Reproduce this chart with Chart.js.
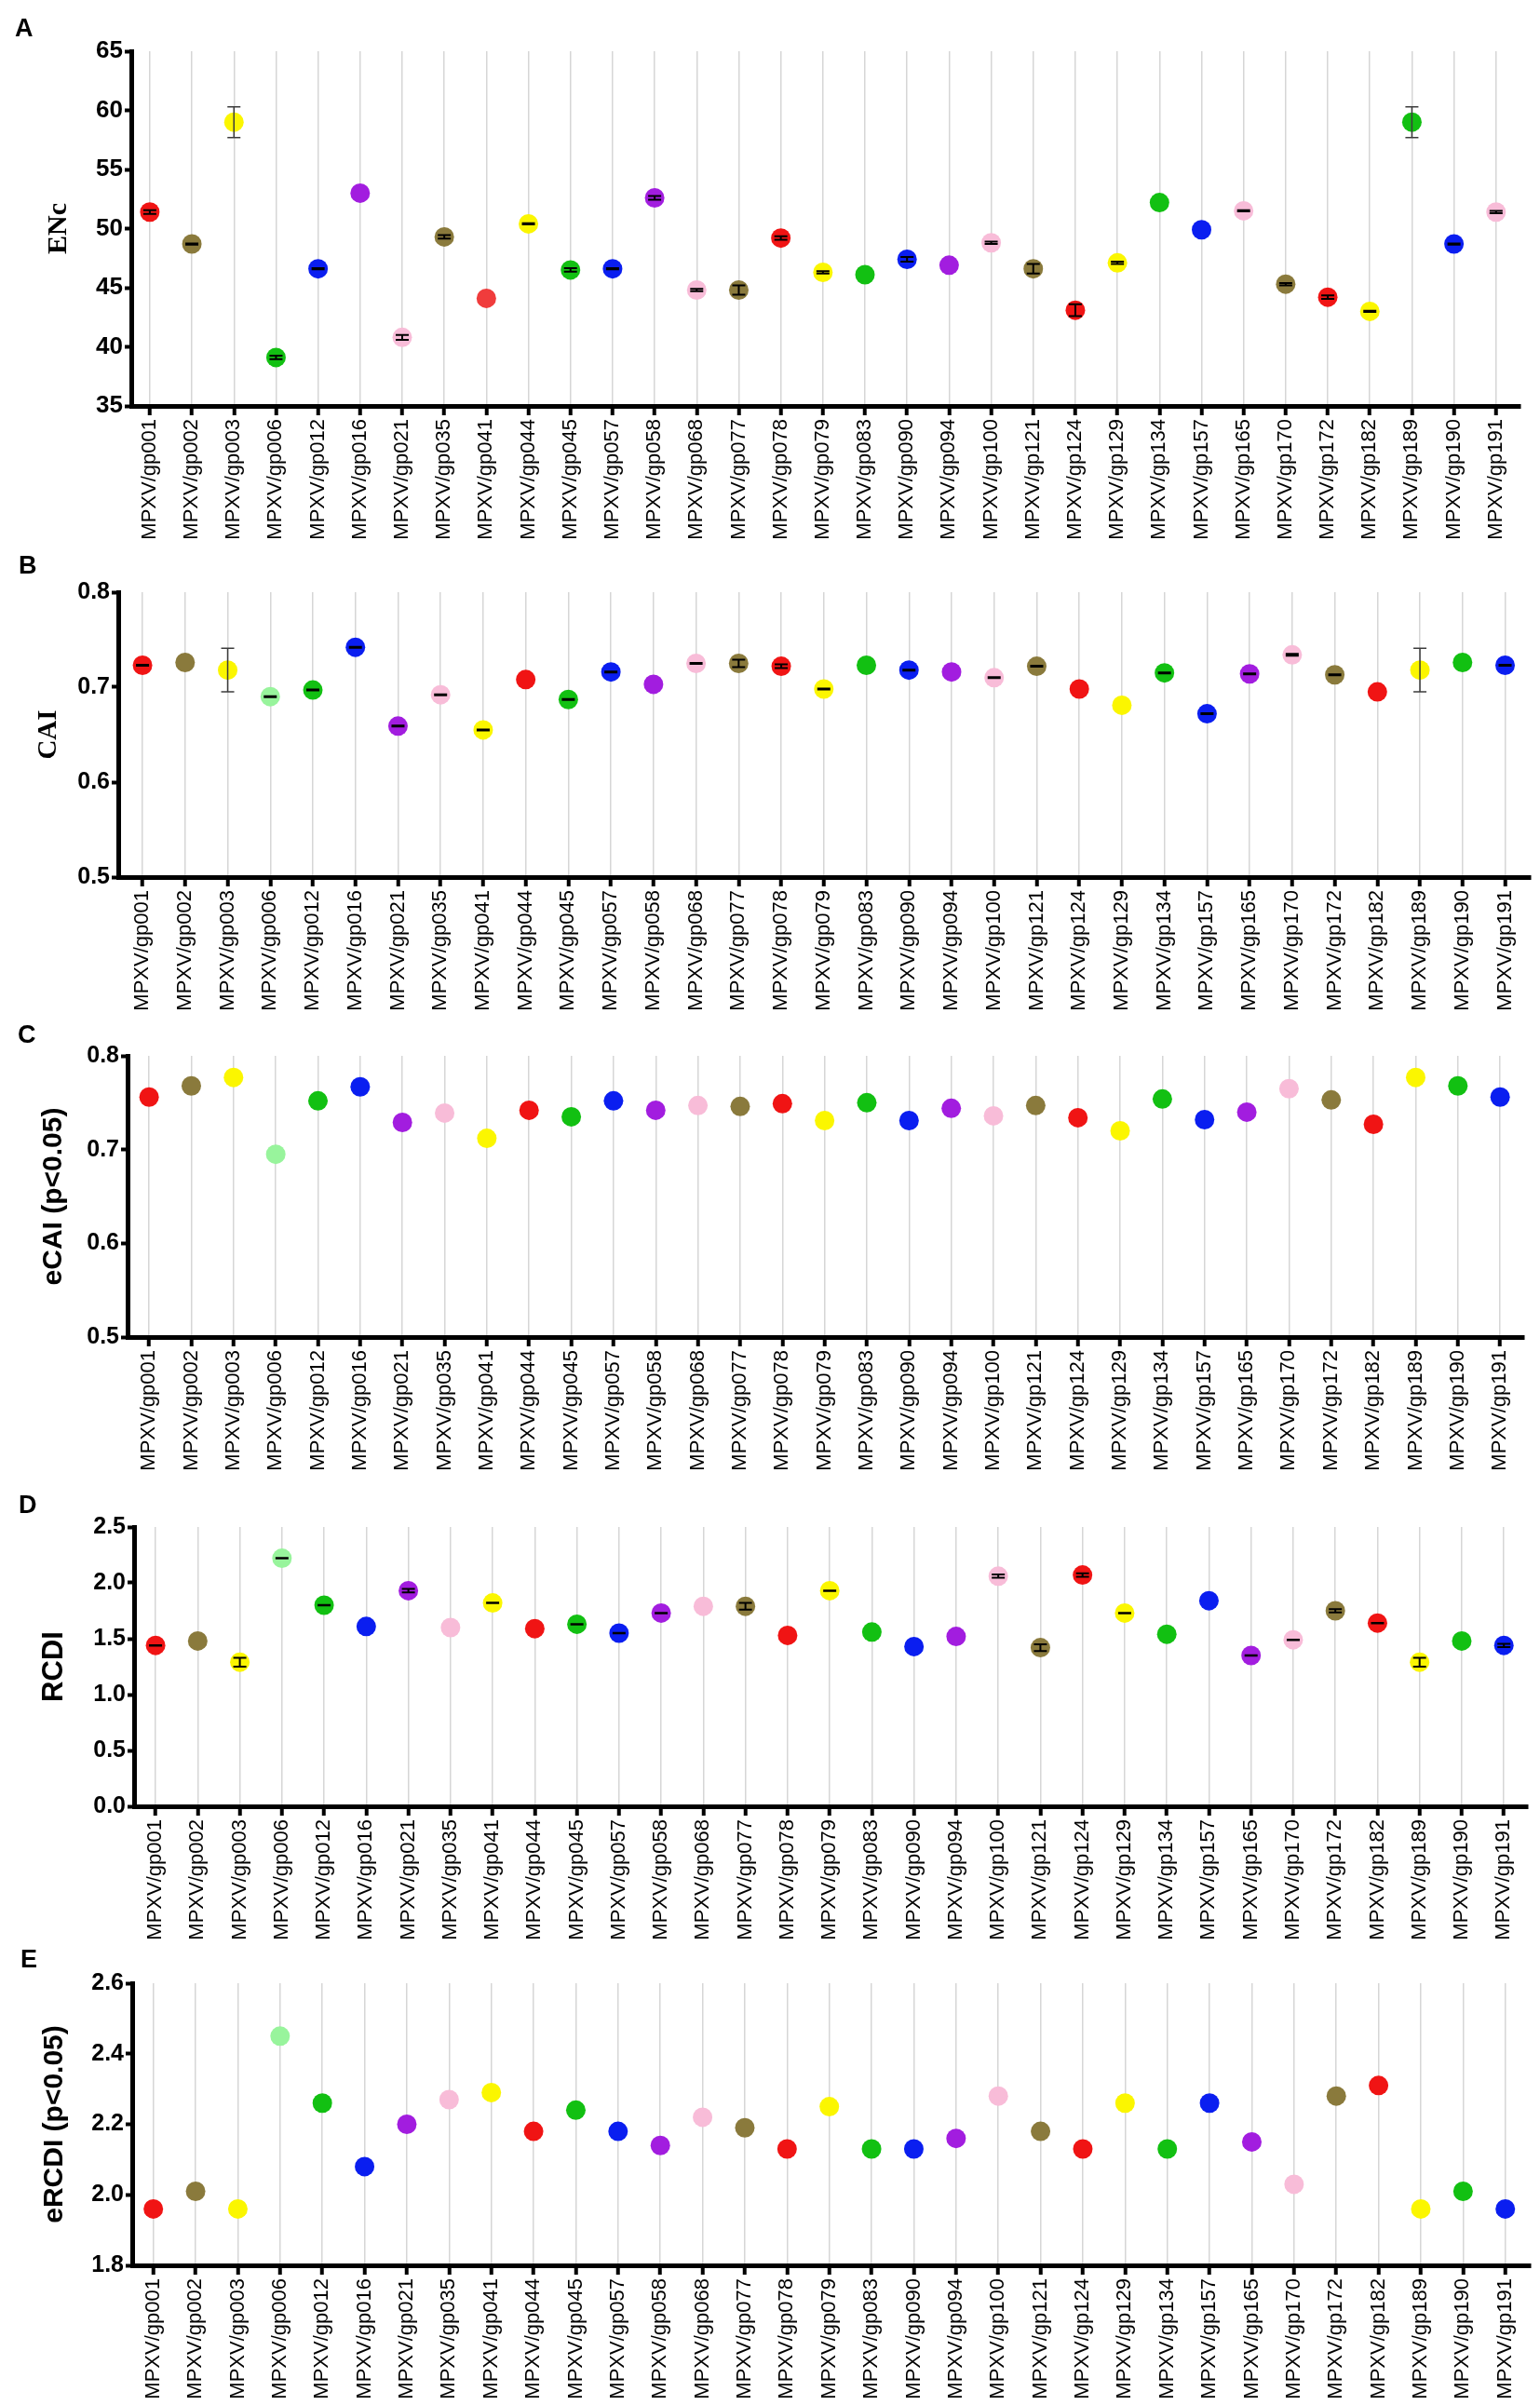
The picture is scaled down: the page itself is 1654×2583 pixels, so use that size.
<!DOCTYPE html>
<html>
<head>
<meta charset="utf-8">
<script src="https://cdn.jsdelivr.net/npm/chart.js@4.4.1/dist/chart.umd.min.js"></script>
<style>
    body { margin: 0; background: #fff; width: 1654px; height: 2583px; position: relative; overflow: hidden; }
    canvas { position: absolute; left: 0; }
</style>
</head>
<body>
<canvas id="panelA" width="1654" height="580" style="top:0px"></canvas>
<canvas id="panelB" width="1654" height="520" style="top:575px"></canvas>
<canvas id="panelC" width="1654" height="510" style="top:1090px"></canvas>
<canvas id="panelD" width="1654" height="500" style="top:1590px"></canvas>
<canvas id="panelE" width="1654" height="498" style="top:2085px"></canvas>
<script>
// genes on the x axis (same order in every panel)
const genes = ['MPXV/gp001', 'MPXV/gp002', 'MPXV/gp003', 'MPXV/gp006', 'MPXV/gp012', 'MPXV/gp016',
    'MPXV/gp021', 'MPXV/gp035', 'MPXV/gp041', 'MPXV/gp044', 'MPXV/gp045', 'MPXV/gp057',
    'MPXV/gp058', 'MPXV/gp068', 'MPXV/gp077', 'MPXV/gp078', 'MPXV/gp079', 'MPXV/gp083',
    'MPXV/gp090', 'MPXV/gp094', 'MPXV/gp100', 'MPXV/gp121', 'MPXV/gp124', 'MPXV/gp129',
    'MPXV/gp134', 'MPXV/gp157', 'MPXV/gp165', 'MPXV/gp170', 'MPXV/gp172', 'MPXV/gp182',
    'MPXV/gp189', 'MPXV/gp190', 'MPXV/gp191'];

// A - ENc
const encValues = [51.4, 48.7, 59.0, 39.1, 46.6, 53.0, 40.8, 49.3, 44.1, 50.4, 46.5, 46.6, 52.6, 44.8, 44.8,
    49.2, 46.3, 46.1, 47.4, 46.9, 48.8, 46.6, 43.1, 47.1, 52.2, 49.9, 51.5, 45.3, 44.2, 43.0, 59.0, 48.7, 51.4];
const encErrors = [0.15, 0.05, 1.3, 0.15, 0.05, 0, 0.2, 0.15, 0, 0.05, 0.15, 0.05, 0.15, 0.1, 0.4,
    0.15, 0.1, 0, 0.2, 0, 0.1, 0.4, 0.5, 0.1, 0, 0, 0.05, 0.1, 0.15, 0.05, 1.3, 0.05, 0.1];

// B - CAI
const caiValues = [0.723, 0.726, 0.718, 0.690, 0.697, 0.742, 0.659, 0.692, 0.655, 0.708, 0.687, 0.716, 0.703, 0.725, 0.725,
    0.722, 0.698, 0.723, 0.718, 0.716, 0.710, 0.722, 0.698, 0.681, 0.715, 0.672, 0.714, 0.734, 0.713, 0.695, 0.718, 0.726, 0.723];
const caiErrors = [0.0005, 0, 0.023, 0.0005, 0.0005, 0.0005, 0.0005, 0.0005, 0.0005, 0, 0.0005, 0.0005, 0, 0.0005, 0.004,
    0.002, 0.0005, 0, 0.0005, 0, 0.0005, 0.0005, 0, 0, 0.0005, 0.0005, 0.0005, 0.001, 0.0005, 0, 0.023, 0, 0.0005];

// C - eCAI (p<0.05)
const ecaiValues = [0.756, 0.768, 0.777, 0.695, 0.752, 0.767, 0.729, 0.739, 0.712, 0.742, 0.735, 0.752, 0.742, 0.747, 0.746,
    0.749, 0.731, 0.750, 0.731, 0.744, 0.736, 0.747, 0.734, 0.720, 0.754, 0.732, 0.740, 0.765, 0.753, 0.727, 0.777, 0.768, 0.756];

// D - RCDI
const rcdiValues = [1.44, 1.48, 1.29, 2.22, 1.80, 1.61, 1.93, 1.60, 1.82, 1.59, 1.63, 1.55, 1.73, 1.79, 1.79,
    1.53, 1.93, 1.56, 1.43, 1.52, 2.06, 1.42, 2.07, 1.73, 1.54, 1.84, 1.35, 1.49, 1.75, 1.64, 1.29, 1.48, 1.44];
const rcdiErrors = [0.002, 0, 0.04, 0.002, 0.002, 0, 0.015, 0, 0.002, 0, 0.002, 0.002, 0.002, 0, 0.03,
    0, 0.002, 0, 0, 0, 0.015, 0.03, 0.015, 0.002, 0, 0, 0.002, 0.002, 0.015, 0.002, 0.04, 0, 0.015];

// E - eRCDI (p<0.05)
const ercdiValues = [1.96, 2.01, 1.96, 2.45, 2.26, 2.08, 2.20, 2.27, 2.29, 2.18, 2.24, 2.18, 2.14, 2.22, 2.19,
    2.13, 2.25, 2.13, 2.13, 2.16, 2.28, 2.18, 2.13, 2.26, 2.13, 2.26, 2.15, 2.03, 2.28, 2.31, 1.96, 2.01, 1.96];

// dot colours
const colorsA = ['red', 'olive', 'yellow', 'green', 'blue', 'purple', 'pink', 'olive', 'lightred', 'yellow', 'green',
    'blue', 'purple', 'pink', 'olive', 'red', 'yellow', 'green', 'blue', 'purple', 'pink', 'olive', 'red', 'yellow',
    'green', 'blue', 'pink', 'olive', 'red', 'yellow', 'green', 'blue', 'pink'];
const colorsOther = ['red', 'olive', 'yellow', 'lightgreen', 'green', 'blue', 'purple', 'pink', 'yellow', 'red', 'green',
    'blue', 'purple', 'pink', 'olive', 'red', 'yellow', 'green', 'blue', 'purple', 'pink', 'olive', 'red', 'yellow',
    'green', 'blue', 'purple', 'pink', 'olive', 'red', 'yellow', 'green', 'blue'];

const palette = {
    red: '#f01414', lightred: '#f03c3c', olive: '#8a7a3c', yellow: '#fbf600', green: '#12c012',
    blue: '#0a1ef0', purple: '#a21ddf', pink: '#f8bcd8', lightgreen: '#98f49c'
};

const sans = "'Liberation Sans', Arial, Helvetica, sans-serif";
const serif = "'Liberation Serif', 'Times New Roman', serif";

// error bars drawn through the chart's own scales
const errorBars = {
    id: 'errorBars',
    afterDatasetsDraw(chart, args, opts) {
        const errs = opts.errors;
        if (!errs) return;
        const ctx = chart.ctx;
        const xs = chart.scales.x, ys = chart.scales.y;
        ctx.save();
        chart.data.datasets[0].data.forEach((p, i) => {
            const e = errs[i];
            if (!e) return;
            const x = xs.getPixelForValue(p.x);
            const top = ys.getPixelForValue(p.y + e);
            const bot = ys.getPixelForValue(p.y - e);
            const big = (bot - top) > 14;
            ctx.strokeStyle = big ? '#3c3c3c' : '#000';
            ctx.lineWidth = big ? 1.5 : 2;
            ctx.beginPath();
            ctx.moveTo(x, top); ctx.lineTo(x, bot);
            ctx.moveTo(x - 7, top); ctx.lineTo(x + 7, top);
            ctx.moveTo(x - 7, bot); ctx.lineTo(x + 7, bot);
            ctx.stroke();
        });
        ctx.restore();
    }
};

const panelLetter = {
    id: 'panelLetter',
    afterDraw(chart, args, opts) {
        const ctx = chart.ctx;
        ctx.save();
        ctx.fillStyle = '#000';
        ctx.font = 'bold 27px ' + sans;
        ctx.textBaseline = 'alphabetic';
        ctx.fillText(opts.text, opts.x, opts.y);
        ctx.restore();
    }
};

function crearPanel(cfg) {
    const ctx = document.getElementById(cfg.id).getContext('2d');
    const h = ctx.canvas.height;
    new Chart(ctx, {
        type: 'scatter',
        data: {
            datasets: [{
                data: cfg.values.map((v, i) => ({ x: i, y: v })),
                pointBackgroundColor: cfg.colors.map(c => palette[c]),
                pointBorderWidth: 0,
                pointRadius: 10.5,
                pointHoverRadius: 10.5
            }]
        },
        options: {
            responsive: false,
            animation: false,
            devicePixelRatio: 1,
            layout: { padding: { top: cfg.top, left: 0, right: 1654 - cfg.right, bottom: 0 } },
            plugins: {
                legend: { display: false },
                tooltip: { enabled: false },
                errorBars: { errors: cfg.errors },
                panelLetter: cfg.letter
            },
            scales: {
                x: {
                    type: 'linear',
                    min: cfg.xmin,
                    max: cfg.xmax,
                    afterFit(s) { s.height = h - cfg.bottom; },
                    border: { color: '#000', width: 5 },
                    grid: { color: '#d6d6d6', lineWidth: 1.5, tickColor: '#000', tickWidth: 4, tickLength: 10 },
                    ticks: {
                        stepSize: 1, autoSkip: false, includeBounds: false,
                        minRotation: 90, maxRotation: 90, padding: 4, color: '#000',
                        font: { family: sans, size: 22 },
                        callback: v => genes[v] || ''
                    }
                },
                y: {
                    min: cfg.ymin,
                    max: cfg.ymax,
                    afterFit(s) { s.width = cfg.left; },
                    border: { color: '#000', width: 5 },
                    grid: { drawOnChartArea: false, tickColor: '#000', tickWidth: 4, tickLength: 7 },
                    ticks: {
                        stepSize: cfg.step, padding: 2, color: '#000',
                        font: { family: sans, size: cfg.tickSize, weight: 'bold' },
                        callback: v => cfg.decimals ? v.toFixed(cfg.decimals) : String(Math.round(v))
                    },
                    title: {
                        display: true, text: cfg.title, color: '#000',
                        font: { family: cfg.titleFamily, size: cfg.titleSize, weight: 'bold', lineHeight: 1 },
                        padding: { top: cfg.titleX - cfg.titleSize / 2, bottom: 0 }
                    }
                }
            }
        },
        plugins: [errorBars, panelLetter]
    });
}

crearPanel({ id: 'panelA', values: encValues, errors: encErrors, colors: colorsA,
    top: 55, bottom: 436, left: 141, right: 1633, xmin: -0.44, xmax: 32.58,
    ymin: 35, ymax: 65, step: 5, decimals: 0, tickSize: 26,
    title: 'ENc', titleFamily: serif, titleSize: 30, titleX: 63,
    letter: { text: 'A', x: 16, y: 39 } });

crearPanel({ id: 'panelB', values: caiValues, errors: caiErrors, colors: colorsOther,
    top: 61, bottom: 942 - 575, left: 127, right: 1652, xmin: -0.57, xmax: 32.59,
    ymin: 0.5, ymax: 0.8, step: 0.1, decimals: 1, tickSize: 25,
    title: 'CAI', titleFamily: serif, titleSize: 29, titleX: 53,
    letter: { text: 'B', x: 20, y: 41 } });

crearPanel({ id: 'panelC', values: ecaiValues, errors: null, colors: colorsOther,
    top: 44, bottom: 1436 - 1090, left: 137, right: 1637, xmin: -0.51, xmax: 32.57,
    ymin: 0.5, ymax: 0.8, step: 0.1, decimals: 1, tickSize: 25,
    title: 'eCAI (p<0.05)', titleFamily: sans, titleSize: 30, titleX: 58,
    letter: { text: 'C', x: 19, y: 30 } });

crearPanel({ id: 'panelD', values: rcdiValues, errors: rcdiErrors, colors: colorsOther,
    top: 50, bottom: 1940 - 1590, left: 144, right: 1641, xmin: -0.51, xmax: 32.57,
    ymin: 0, ymax: 2.5, step: 0.5, decimals: 1, tickSize: 25,
    title: 'RCDI', titleFamily: sans, titleSize: 31, titleX: 58,
    letter: { text: 'D', x: 20, y: 35 } });

crearPanel({ id: 'panelE', values: ercdiValues, errors: null, colors: colorsOther,
    top: 45, bottom: 2433 - 2085, left: 142, right: 1652, xmin: -0.5, xmax: 32.59,
    ymin: 1.8, ymax: 2.6, step: 0.2, decimals: 1, tickSize: 25,
    title: 'eRCDI (p<0.05)', titleFamily: sans, titleSize: 30, titleX: 59,
    letter: { text: 'E', x: 22, y: 28 } });
</script>
</body>
</html>
